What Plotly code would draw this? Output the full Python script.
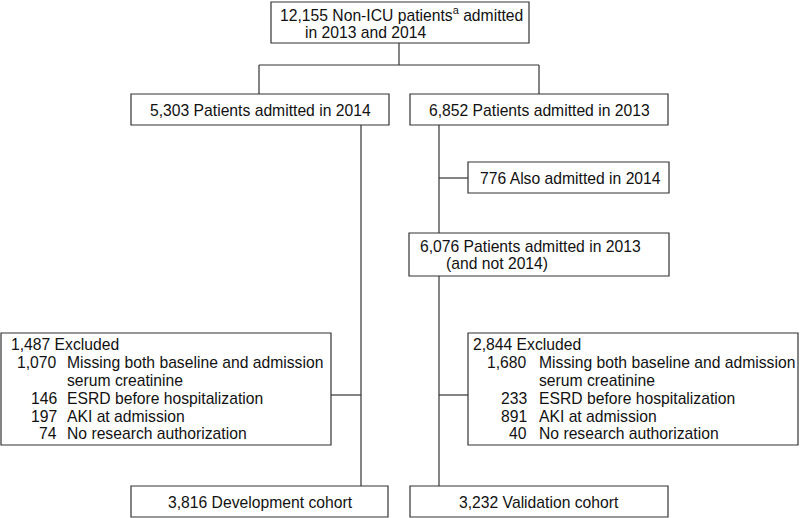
import plotly.graph_objects as go

# ---------------- data ----------------
total_patients = 12155
year_groups = ["2014", "2013"]
year_counts = [5303, 6852]
also_admitted_2014 = 776
only_2013 = 6076
excl_totals = [1487, 2844]
excl_reasons = ["Missing both baseline and admission", "ESRD before hospitalization",
                "AKI at admission", "No research authorization"]
excl_dev_counts = [1070, 146, 197, 74]
excl_val_counts = [1680, 233, 891, 40]
cohort_names = ["Development cohort", "Validation cohort"]
cohort_counts = [3816, 3232]

# ---------------- styling ----------------
FONT = dict(family="Liberation Sans, Arial, sans-serif", size=15.7, color="#111111")
LINE = dict(color="#333333", width=1.2)

fig = go.Figure()
shapes = []
annotations = []


def box(x0, y0, x1, y1):
    shapes.append(dict(type="rect", xref="x", yref="y", x0=x0, y0=y0, x1=x1, y1=y1,
                       line=LINE, fillcolor="white", layer="above"))


def line(x0, y0, x1, y1):
    shapes.append(dict(type="line", xref="x", yref="y", x0=x0, y0=y0, x1=x1, y1=y1,
                       line=LINE, layer="below"))


def text(x, y, s, anchor="left"):
    annotations.append(dict(x=x, y=y, xref="x", yref="y", text=s, showarrow=False,
                            xanchor=anchor, yanchor="middle", font=FONT))


# connectors
line(399, 43, 399, 65)
line(259, 65, 539, 65)
line(259, 65, 259, 94)
line(539, 65, 539, 94)
line(361, 125, 361, 486)
line(439, 125, 439, 486)
line(439, 178, 468, 178)
line(331, 395, 361, 395)
line(439, 395, 468, 395)

# top box
box(271, 2, 529, 43)
text(278, 14, f"{total_patients:,} Non-ICU patients<sup>a</sup> admitted")
text(303, 32, "in 2013 and 2014")

# year boxes
box(131, 94, 389, 125)
text(260, 110, f"{year_counts[0]:,} Patients admitted in {year_groups[0]}", "center")
box(410, 94, 668, 125)
text(539, 110, f"{year_counts[1]:,} Patients admitted in {year_groups[1]}", "center")

# also admitted
box(468, 162, 669, 193)
text(478, 178, f"{also_admitted_2014:,} Also admitted in 2014")

# only 2013
box(409, 233, 669, 276)
text(418, 246, f"{only_2013:,} Patients admitted in 2013")
text(444, 263, "(and not 2014)")


# exclusion boxes
def excl_box(x0, x1, num_right, desc_left, total, counts):
    box(x0, 333, x1, 445)
    text(x0 + 8 if x0 < 100 else x0 + 3, 344, f"{total:,} Excluded")
    ys = [362, 398, 416, 433]
    for yy, c, r in zip(ys, counts, excl_reasons):
        text(num_right, yy, f"{c:,}", "right")
        text(desc_left, yy, r)
    text(desc_left, 380, "serum creatinine")


excl_box(1, 331, 59, 65, excl_totals[0], excl_dev_counts)
excl_box(468, 798, 529, 537, excl_totals[1], excl_val_counts)

# cohort boxes
box(131, 486, 388, 517)
text(260, 502, f"{cohort_counts[0]:,} {cohort_names[0]}", "center")
box(410, 486, 668, 517)
text(539, 502, f"{cohort_counts[1]:,} {cohort_names[1]}", "center")

fig.update_layout(
    width=800, height=518,
    margin=dict(l=0, r=0, t=0, b=0),
    paper_bgcolor="white", plot_bgcolor="white",
    xaxis=dict(range=[0, 800], visible=False, fixedrange=True),
    yaxis=dict(range=[518, 0], visible=False, fixedrange=True),
    shapes=shapes, annotations=annotations, showlegend=False,
)

fig.write_html(
    "out.html",
    config={"displayModeBar": False},
    post_script="document.body.style.margin='0';document.body.style.overflow='hidden';",
)
